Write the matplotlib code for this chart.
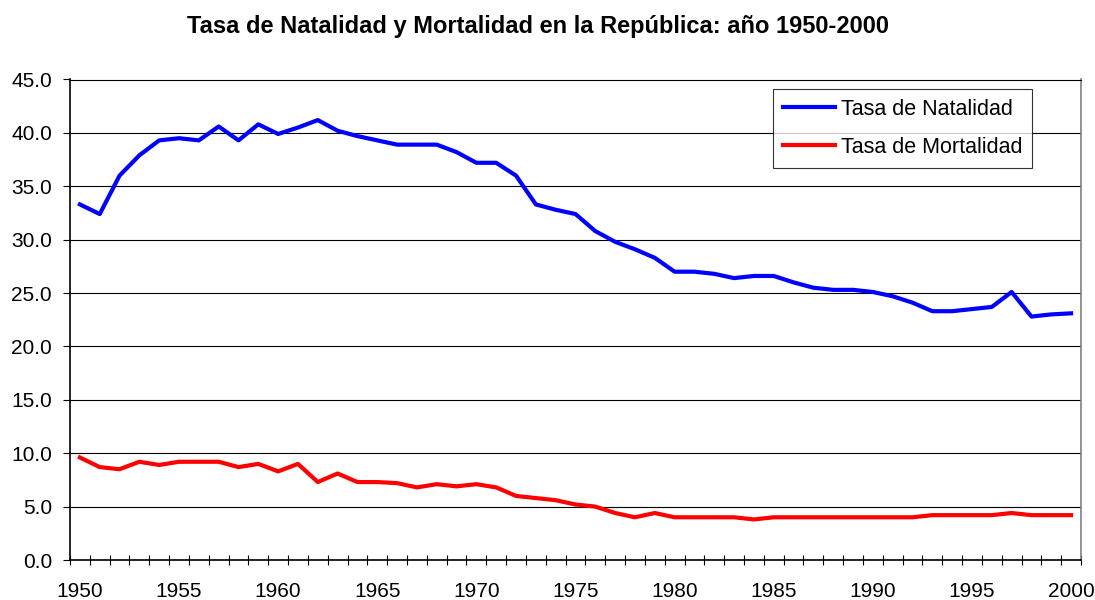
import matplotlib
matplotlib.use("Agg")
import matplotlib.pyplot as plt
import numpy as np

years = list(range(1950, 2001))
natalidad = [33.3, 32.4, 36.0, 37.9, 39.3, 39.5, 39.3, 40.6, 39.3, 40.8,
             39.9, 40.5, 41.2, 40.2, 39.7, 39.3, 38.9, 38.9, 38.9, 38.2,
             37.2, 37.2, 36.0, 33.3, 32.8, 32.4, 30.8, 29.8, 29.1, 28.3,
             27.0, 27.0, 26.8, 26.4, 26.6, 26.6, 26.0, 25.5, 25.3, 25.3,
             25.1, 24.7, 24.1, 23.3, 23.3, 23.5, 23.7, 25.1, 22.8, 23.0,
             23.1]
mortalidad = [9.6, 8.7, 8.5, 9.2, 8.9, 9.2, 9.2, 9.2, 8.7, 9.0,
              8.3, 9.0, 7.3, 8.1, 7.3, 7.3, 7.2, 6.8, 7.1, 6.9,
              7.1, 6.8, 6.0, 5.8, 5.6, 5.2, 5.0, 4.4, 4.0, 4.4,
              4.0, 4.0, 4.0, 4.0, 3.8, 4.0, 4.0, 4.0, 4.0, 4.0,
              4.0, 4.0, 4.0, 4.2, 4.2, 4.2, 4.2, 4.4, 4.2, 4.2,
              4.2]
series_labels = ["Tasa de Natalidad", "Tasa de Mortalidad"]
title = "Tasa de Natalidad y Mortalidad en la República: año 1950-2000"

plt.rcParams['font.family'] = ['Liberation Sans', 'DejaVu Sans']

fig = plt.figure(figsize=(10.95, 6.0), dpi=100)
ax = fig.add_axes([70/1095, 1-560/600, (1081-70)/1095, (560-79.5)/600])

ax.plot(years, natalidad, color='#0000FF', lw=3, label=series_labels[0])
ax.plot(years, mortalidad, color='#FF0000', lw=3, label=series_labels[1])

ax.set_xlim(1949.5, 2000.5)
ax.set_ylim(0, 45)
yt = np.arange(0, 45.1, 5)
ax.set_yticks(yt)
ax.set_yticklabels([f"{v:.1f}" for v in yt])
ax.yaxis.grid(True, color='black', lw=0.8)
ax.set_axisbelow(True)

ax.set_xticks(np.arange(1950, 2001, 5))
ax.set_xticks(np.arange(1949.5, 2001, 1), minor=True)
ax.tick_params(axis='x', which='major', length=0, labelsize=15, pad=16)
ax.tick_params(axis='x', which='minor', direction='inout', length=7, width=0.8)
ax.tick_params(axis='y', which='major', direction='out', length=5, width=0.8, labelsize=15, pad=8)

for s in ['left', 'bottom']:
    ax.spines[s].set_color('black')
    ax.spines[s].set_linewidth(1.2)
ax.spines['top'].set_color('black')
ax.spines['top'].set_linewidth(0.8)
ax.spines['right'].set_color('#808080')
ax.spines['right'].set_linewidth(1.2)

leg = ax.legend(loc='upper right', bbox_to_anchor=(962/1011, 1-9.5/480.5),
                fontsize=15.5, frameon=True, fancybox=False, handlelength=2.45,
                handletextpad=0.25, borderpad=0.45, labelspacing=0.8, borderaxespad=0)
leg.get_frame().set_edgecolor('black')
leg.get_frame().set_linewidth(0.8)

fig.text(538/1095, 1-26/600, title, ha='center', va='center', fontsize=17, fontweight='bold')

fig.savefig("out.png", dpi=100)
